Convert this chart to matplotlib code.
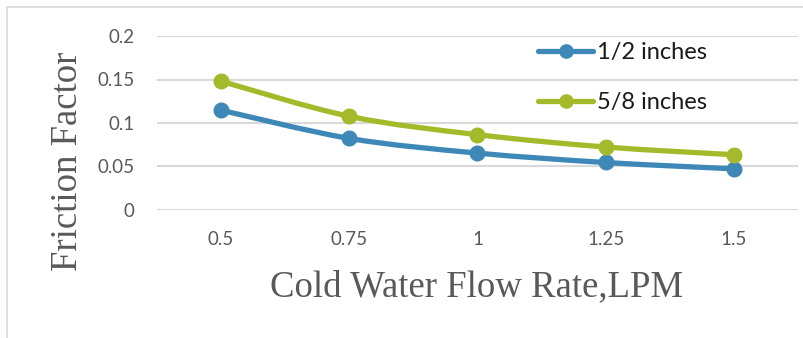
#!/usr/bin/env python3

import matplotlib
matplotlib.use('Agg')
import matplotlib.pyplot as plt
from matplotlib.path import Path
from matplotlib.patches import PathPatch, Rectangle
from matplotlib.lines import Line2D

# data
flow_rate = ['0.5', '0.75', '1', '1.25', '1.5']
half_inch = [0.1147, 0.0823, 0.0654, 0.0546, 0.0473]
five_eighth_inch = [0.148, 0.1077, 0.0866, 0.0724, 0.0635]
y_ticks = [0, 0.05, 0.1, 0.15, 0.2]
y_ticklabels = ['0', '0.05', '0.1', '0.15', '0.2']

BLUE = '#3D88B6'
GREEN = '#A5BA2A'
GRID = '#D9D9D9'
TICK = '#595959'


def smooth_path(xs, ys):
    '''excel-like smoothed line: cubic bezier through every point'''
    pts = list(zip(xs, ys))
    verts = [pts[0]]
    codes = [Path.MOVETO]
    n = len(pts)
    for i in range(n - 1):
        p0 = pts[i - 1] if i > 0 else pts[i]
        p1 = pts[i]
        p2 = pts[i + 1]
        p3 = pts[i + 2] if i + 2 < n else pts[i + 1]
        c1 = (p1[0] + (p2[0] - p0[0]) / 6, p1[1] + (p2[1] - p0[1]) / 6)
        c2 = (p2[0] - (p3[0] - p1[0]) / 6, p2[1] - (p3[1] - p1[1]) / 6)
        verts += [c1, c2, p2]
        codes += [Path.CURVE4] * 3
    return Path(verts, codes)


fig = plt.figure(figsize=(8.04, 3.38), dpi=100)

# chart area border (cropped at right / bottom)
fig.patches.append(Rectangle((7 / 804, -0.1), 1.2, 1.1 - 7 / 338,
                             transform=fig.transFigure, fill=False,
                             edgecolor=GRID, linewidth=1.2))

ax = fig.add_axes([157 / 804, 1 - 210 / 338, 641 / 804, 174 / 338])
x = list(range(len(flow_rate)))

series = [(half_inch, BLUE, '1/2 inches'), (five_eighth_inch, GREEN, '5/8 inches')]
handles = []
for ys, col, name in series:
    ax.add_patch(PathPatch(smooth_path(x, ys), fill=False, edgecolor=col,
                           linewidth=3.8, capstyle='round', zorder=3))
    ax.plot(x, ys, linestyle='none', marker='o', markersize=10.5,
            color=col, zorder=4)
    handles.append(Line2D([], [], color=col, linewidth=3.8, marker='o',
                          markersize=9.5, solid_capstyle='round'))

ax.set_xlim(-0.5, len(flow_rate) - 0.5)
ax.set_ylim(0, 0.2)
ax.set_xticks(x)
ax.set_xticklabels(flow_rate)
ax.set_yticks(y_ticks)
ax.set_yticklabels(y_ticklabels)
ax.tick_params(length=0, labelsize=13.5, labelcolor=TICK)
ax.tick_params(axis='y', pad=16)
ax.tick_params(axis='x', pad=15)
for lab in ax.get_xticklabels() + ax.get_yticklabels():
    lab.set_fontfamily('Lato')
for s in ax.spines.values():
    s.set_visible(False)
ax.yaxis.grid(True, color=GRID, linewidth=1.5)
ax.set_axisbelow(True)

fig.text(68 / 804, 1 - 161 / 338, 'Friction Factor', rotation=90,
         ha='center', va='center', fontsize=26.5, color=TICK,
         family='Liberation Serif')
fig.text(477 / 804, 1 - 287 / 338, 'Cold Water Flow Rate,LPM',
         ha='center', va='center', fontsize=26.5, color=TICK,
         family='Liberation Serif')

leg = fig.legend(handles, [s[2] for s in series], loc='upper left',
                 bbox_to_anchor=(538 / 804, 1 - 42 / 338), frameon=False,
                 prop={'family': 'Lato', 'size': 17}, handlelength=2.35,
                 handletextpad=0.15, labelspacing=1.24, borderpad=0,
                 borderaxespad=0)
for t in leg.get_texts():
    t.set_color('#1A1A1A')

fig.savefig('out.png', dpi=100)
